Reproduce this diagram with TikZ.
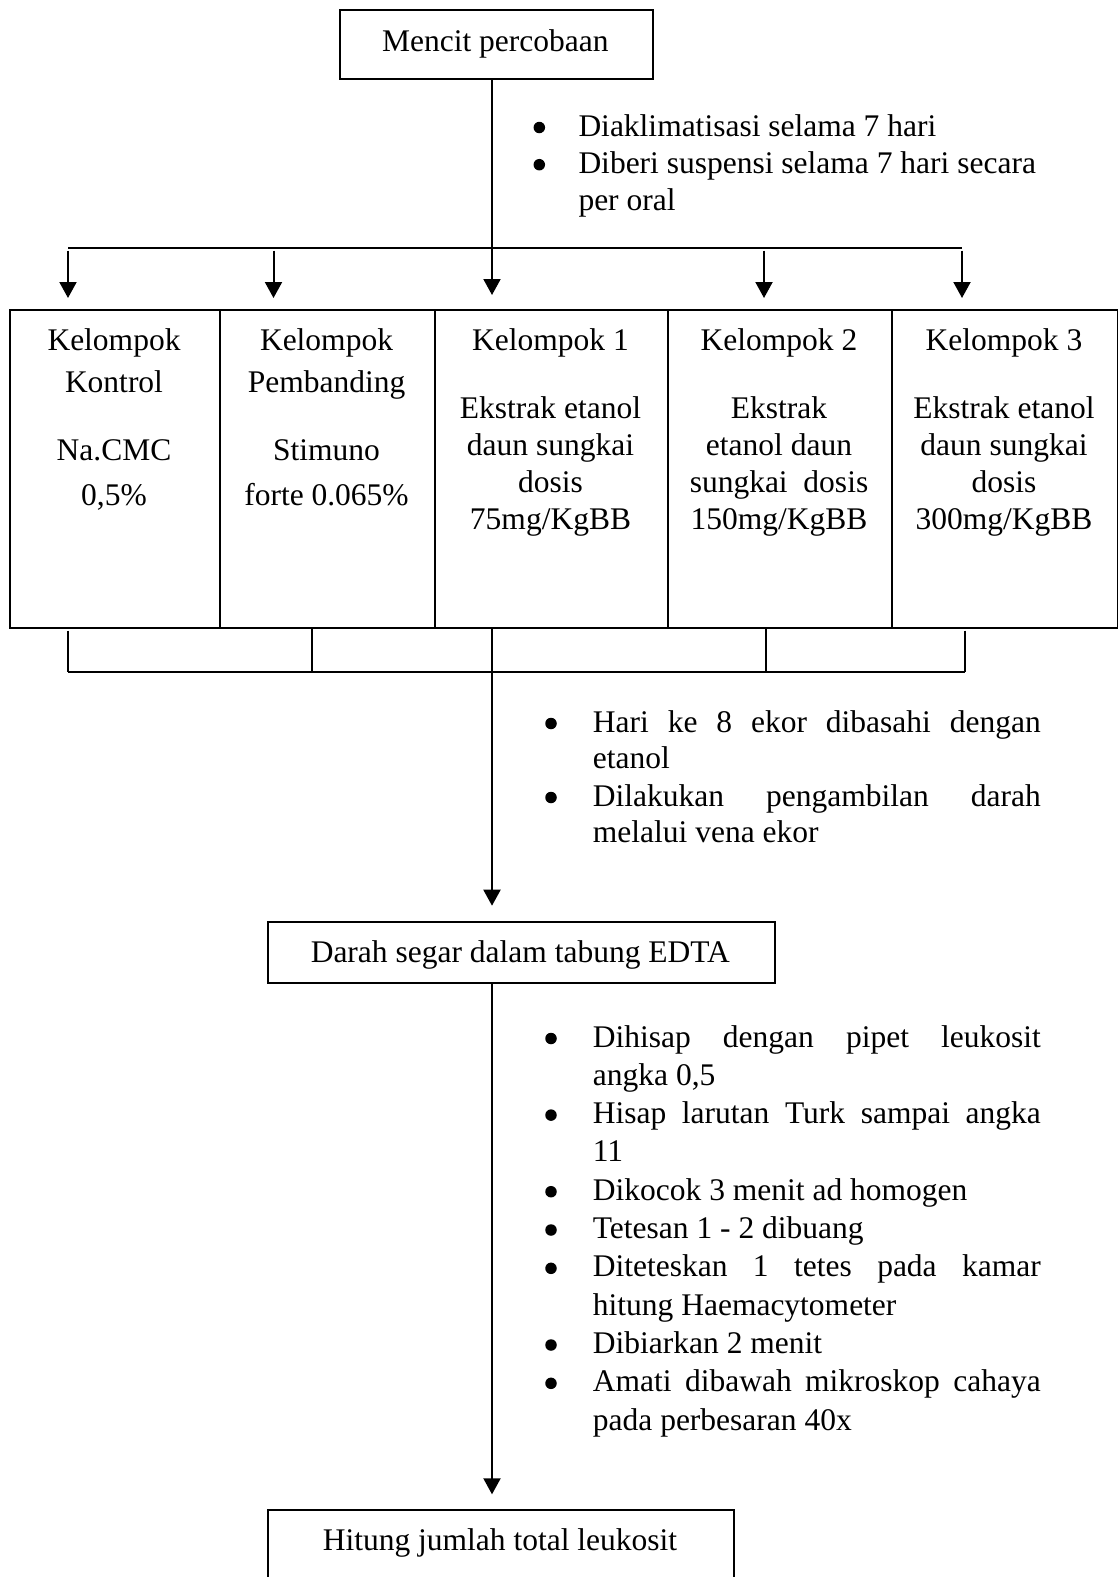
\documentclass[tikz,border=0pt]{standalone}
\usepackage{fontspec}
\setmainfont{Liberation Serif}
\usetikzlibrary{arrows.meta}
\begin{document}
\begin{tikzpicture}[x=1pt,y=-1pt,
  every node/.style={font=\fontsize{31.5}{37.5}\selectfont},
  frame/.style={draw, line width=2pt, inner sep=0pt, anchor=north west},
  txt/.style={anchor=base, inner sep=0pt},
  ltxt/.style={anchor=base west, inner sep=0pt},
  conn/.style={line width=2pt},
  arr/.style={line width=2pt, -{Triangle[width=17pt,length=16pt]}},
  dot/.style={circle, fill, inner sep=0pt, minimum size=11.5pt}
]
\useasboundingbox (0,0) rectangle (1118,1577);
\clip (0,0) rectangle (1118,1577);

% ---------- top box ----------
\node[frame, minimum width=312.7pt, minimum height=68.7pt] (top) at (339,9) {};
\node[txt] (ttop) at (495.3,51) {Mencit percobaan};

% ---------- first bullets ----------
\node[dot] (d1a) at (539.3,127.5) {};
\node[ltxt] (b1a) at (578.3,136) {Diaklimatisasi selama 7 hari};
\node[dot] (d1b) at (539.3,164.7) {};
\node[ltxt] (b1b) at (578.3,173.2) {Diberi suspensi selama 7 hari secara};
\node[ltxt] (b1c) at (578.3,210.4) {per oral};

% ---------- split to groups ----------
\coordinate (j) at (492,247.7);
\coordinate (hl) at (68,247.7);
\coordinate (hr) at (962,247.7);
\draw[conn] (top.south -| j) -- (j);
\draw[conn] (hl) -- (hr);

\node[frame, minimum width=210pt, minimum height=318pt] (g1) at (9,309) {};
\node[frame, minimum width=215pt, minimum height=318pt] (g2) at (219,309) {};
\node[frame, minimum width=233pt, minimum height=318pt] (g3) at (434,309) {};
\node[frame, minimum width=224pt, minimum height=318pt] (g4) at (667,309) {};
\node[frame, minimum width=225.5pt, minimum height=318pt] (g5) at (891,309) {};

\coordinate (a1) at (68,250.5);
\coordinate (a2) at (273.5,250.5);
\coordinate (a4) at (764,250.5);
\coordinate (a5) at (962,250.5);
\draw[arr, shorten >=11pt] (a1) -- (a1 |- g1.north);
\draw[arr, shorten >=11pt] (a2) -- (a2 |- g2.north);
\draw[arr, shorten >=14pt] (j) -- (j |- g3.north);
\draw[arr, shorten >=11pt] (a4) -- (a4 |- g4.north);
\draw[arr, shorten >=11pt] (a5) -- (a5 |- g5.north);

% group texts
\node[txt] (g1t1) at (114,350) {Kelompok};
\node[txt] (g1t2) at (114,392) {Kontrol};
\node[txt] (g1t3) at (114,460.5) {Na.CMC};
\node[txt] (g1t4) at (114,505.7) {0,5\%};

\node[txt] (g2t1) at (326.5,350) {Kelompok};
\node[txt] (g2t2) at (326.5,392) {Pembanding};
\node[txt] (g2t3) at (326.5,460.5) {Stimuno};
\node[txt] (g2t4) at (326.5,505.7) {forte 0.065\%};

\node[txt] (g3t1) at (550.5,350) {Kelompok 1};
\node[txt] (g3t2) at (550.5,418.2) {Ekstrak etanol};
\node[txt] (g3t3) at (550.5,455.4) {daun sungkai};
\node[txt] (g3t4) at (550.5,492.6) {dosis};
\node[txt] (g3t5) at (550.5,529.8) {75mg/KgBB};

\node[txt] (g4t1) at (779,350) {Kelompok 2};
\node[txt] (g4t2) at (779,418.2) {Ekstrak};
\node[txt] (g4t3) at (779,455.4) {etanol daun};
\node[txt] (g4t4) at (779,492.6) {sungkai\ \ dosis};
\node[txt] (g4t5) at (779,529.8) {150mg/KgBB};

\node[txt] (g5t1) at (1004,350) {Kelompok 3};
\node[txt] (g5t2) at (1004,418.2) {Ekstrak etanol};
\node[txt] (g5t3) at (1004,455.4) {daun sungkai};
\node[txt] (g5t4) at (1004,492.6) {dosis};
\node[txt] (g5t5) at (1004,529.8) {300mg/KgBB};

% ---------- join below groups ----------
\coordinate (u1) at (68.3,630.7);
\coordinate (v1) at (68.3,672.3);
\coordinate (v2) at (311.7,672.3);
\coordinate (v4) at (766,672.3);
\coordinate (u5) at (965,630.7);
\coordinate (v5) at (965,672.3);
\draw[conn] (u1) -- (v1);
\draw[conn] (g2.south -| v2) -- (v2);
\draw[conn] (g4.south -| v4) -- (v4);
\draw[conn] (u5) -- (v5);
\draw[conn] (v1) -- (v5);

% ---------- second box ----------
\node[frame, minimum width=507.3pt, minimum height=61pt] (blood) at (266.7,920.7) {};
\node[txt] (tblood) at (520.3,962) {Darah segar dalam tabung EDTA};
\coordinate (c) at (492,700);
\draw[arr, shorten >=15pt] (g3.south -| c) -- (blood.north -| c);

\node[dot] (d2a) at (551,723.5) {};
\node[ltxt] (b2a) at (592.7,732) {\makebox[447.9pt][s]{Hari ke 8 ekor dibasahi dengan}};
\node[ltxt] (b2b) at (592.7,768.5) {etanol};
\node[dot] (d2b) at (551,797.5) {};
\node[ltxt] (b2c) at (592.7,806) {\makebox[447.9pt][s]{Dilakukan pengambilan darah}};
\node[ltxt] (b2d) at (592.7,842) {melalui vena ekor};

% ---------- final box ----------
\node[frame, minimum width=466.6pt, minimum height=130pt] (count) at (266.7,1509.3) {};
\node[txt] (tcount) at (500,1550) {Hitung jumlah total leukosit};
\draw[arr, shorten >=15pt] (blood.south -| c) -- (count.north -| c);

\node[dot] (d3a) at (551,1038.5) {};
\node[ltxt] (b3a) at (592.7,1047) {\makebox[447.9pt][s]{Dihisap dengan pipet leukosit}};
\node[ltxt] (b3b) at (592.7,1085.3) {angka 0,5};
\node[dot] (d3b) at (551,1115.1) {};
\node[ltxt] (b3c) at (592.7,1123.6) {\makebox[447.9pt][s]{Hisap larutan Turk sampai angka}};
\node[ltxt] (b3d) at (592.7,1161.9) {11};
\node[dot] (d3c) at (551,1191.7) {};
\node[ltxt] (b3e) at (592.7,1200.2) {Dikocok 3 menit ad homogen};
\node[dot] (d3d) at (551,1230) {};
\node[ltxt] (b3f) at (592.7,1238.5) {Tetesan 1 - 2 dibuang};
\node[dot] (d3e) at (551,1268.3) {};
\node[ltxt] (b3g) at (592.7,1276.8) {\makebox[447.9pt][s]{Diteteskan 1 tetes pada kamar}};
\node[ltxt] (b3h) at (592.7,1315.1) {hitung Haemacytometer};
\node[dot] (d3f) at (551,1345) {};
\node[ltxt] (b3i) at (592.7,1353.5) {Dibiarkan 2 menit};
\node[dot] (d3g) at (551,1383.3) {};
\node[ltxt] (b3j) at (592.7,1391.8) {\makebox[447.9pt][s]{Amati dibawah mikroskop cahaya}};
\node[ltxt] (b3k) at (592.7,1430.1) {pada perbesaran 40x};
\end{tikzpicture}
\end{document}
